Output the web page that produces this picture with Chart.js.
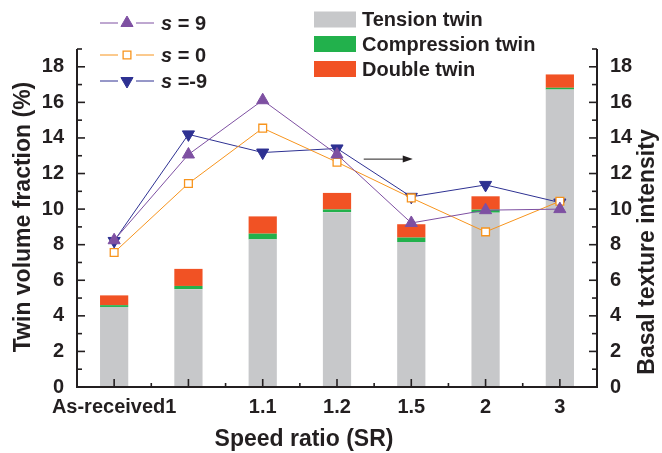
<!DOCTYPE html>
<html>
<head>
<meta charset="utf-8">
<script src="https://cdn.jsdelivr.net/npm/chart.js@4/dist/chart.umd.min.js"></script>
<style>
  html, body { margin: 0; padding: 0; background: #ffffff; }
  canvas { display: block; }
</style>
</head>
<body>
<canvas id="chart" width="662" height="453"></canvas>
<script>
// Speed ratio categories and the labels printed under them
const categories = ['As-received', '1', '1.1', '1.2', '1.5', '2', '3'];
const tickLabels = ['As-received1', '', '1.1', '1.2', '1.5', '2', '3'];

// Twin volume fractions (%), stacked per speed ratio
const tensionTwin     = [4.50, 5.50, 8.30, 9.83, 8.15, 9.80, 16.72];
const compressionTwin = [0.10, 0.18, 0.32, 0.15, 0.25, 0.17, 0.10];
const doubleTwin      = [0.55, 0.96, 0.97, 0.93, 0.75, 0.75, 0.75];

// Basal texture intensity at three sections (s = 9, 0, -9)
const textureS9  = [8.25, 13.07, 16.12, 13.07, 9.22, 9.94, 10.00];
const textureS0  = [7.56, 11.44, 14.55, 12.64, 10.63, 8.72, 10.44];
const textureSm9 = [8.21, 14.20, 13.18, 13.41, 10.69, 11.36, 10.37];

// Shared value range for both vertical axes
const axisMin = 0;
const axisMax = 19;
const yTickValues = [0, 2, 4, 6, 8, 10, 12, 14, 16, 18];

const FONT = "'Liberation Sans', Arial, Helvetica, sans-serif";
const INK = '#231f20';

// Draws the framing lines, inward tick marks, axis titles, both legends and the arrow
const framePlugin = {
  id: 'frame',
  afterDraw(chart) {
    const { ctx, chartArea: a, scales } = chart;
    const seg = (x1, y1, x2, y2) => { ctx.beginPath(); ctx.moveTo(x1, y1); ctx.lineTo(x2, y2); ctx.stroke(); };
    ctx.save();

    // axis lines
    ctx.strokeStyle = INK;
    ctx.lineWidth = 2;
    seg(a.left, a.top, a.left, a.bottom + 1);
    seg(a.right, a.top, a.right, a.bottom + 1);
    seg(a.left - 1, a.bottom, a.right + 1, a.bottom);

    // vertical-axis ticks: major on even values, minor on odd
    ctx.lineWidth = 1.6;
    for (let v = axisMin; v <= axisMax; v++) {
      const yp = scales.y.getPixelForValue(v);
      const len = v % 2 === 0 ? 8 : 5;
      seg(a.left, yp, a.left + len, yp);
      seg(a.right, yp, a.right - len, yp);
    }
    // horizontal-axis ticks: major at categories, minor between them
    for (let i = 0; i < categories.length; i++) {
      const xp = scales.x.getPixelForValue(i);
      seg(xp, a.bottom, xp, a.bottom - 8);
      if (i > 0) {
        const xb = scales.x.getPixelForValue(i - 0.5);
        seg(xb, a.bottom, xb, a.bottom - 4);
      }
    }

    // arrow pointing to the right-hand axis
    const ax1 = scales.x.getPixelForValue(3.36);
    const ax2 = scales.x.getPixelForValue(4.02);
    const ay = scales.y1.getPixelForValue(12.81);
    ctx.strokeStyle = '#231f20';
    ctx.lineWidth = 1;
    seg(ax1, ay, ax2 - 7, ay);
    ctx.fillStyle = '#231f20';
    ctx.beginPath();
    ctx.moveTo(ax2, ay);
    ctx.lineTo(ax2 - 10, ay - 3.5);
    ctx.lineTo(ax2 - 10, ay + 3.5);
    ctx.closePath();
    ctx.fill();

    // axis titles
    ctx.fillStyle = INK;
    ctx.font = 'bold 23px ' + FONT;
    ctx.textAlign = 'center';
    ctx.textBaseline = 'middle';
    ctx.fillText('Speed ratio (SR)', 304, 440);
    ctx.save();
    ctx.translate(24, 217);
    ctx.rotate(-Math.PI / 2);
    ctx.fillText('Twin volume fraction (%)', 0, 0);
    ctx.restore();
    ctx.save();
    ctx.translate(648, 252);
    ctx.rotate(-Math.PI / 2);
    ctx.fillText('Basal texture intensity', 0, 0);
    ctx.restore();

    // legend for the texture lines
    const ds = chart.data.datasets;
    const lineRows = [23, 55, 81];
    ds.filter(d => d.type === 'line').forEach((d, k) => {
      const y = lineRows[k];
      ctx.strokeStyle = d.borderColor;
      ctx.lineWidth = 1;
      seg(100, y, 118, y);
      seg(136, y, 154, y);
      ctx.fillStyle = d.pointBackgroundColor;
      ctx.strokeStyle = d.borderColor;
      ctx.lineWidth = d.pointBorderWidth;
      Chart.helpers.drawPoint(ctx, {
        pointStyle: d.pointStyle, rotation: d.pointRotation || 0,
        radius: d.pointRadius, borderWidth: d.pointBorderWidth
      }, 127, y);
      ctx.fillStyle = INK;
      ctx.textAlign = 'left';
      ctx.font = 'italic bold 20px ' + FONT;
      ctx.fillText(d.label.charAt(0), 161, y + 1);
      const w = ctx.measureText(d.label.charAt(0)).width;
      ctx.font = 'bold 20px ' + FONT;
      ctx.fillText(d.label.slice(1), 161 + w, y + 1);
    });

    // legend for the twin bars
    const barRows = [19.5, 44, 69];
    ds.filter(d => d.type === 'bar').forEach((d, k) => {
      const y = barRows[k];
      ctx.fillStyle = d.backgroundColor;
      ctx.fillRect(314, y - 8, 42, 16);
      ctx.fillStyle = INK;
      ctx.textAlign = 'left';
      ctx.font = 'bold 20px ' + FONT;
      ctx.fillText(d.label, 362, y + 1);
    });

    ctx.restore();
  }
};

const barCommon = {
  type: 'bar', yAxisID: 'y', stack: 'twin', order: 2,
  borderWidth: 0, categoryPercentage: 1, barPercentage: 0.38
};
const lineCommon = {
  type: 'line', yAxisID: 'y1', order: 0, borderWidth: 1, tension: 0,
  pointBorderWidth: 1, fill: false
};

new Chart(document.getElementById('chart'), {
  data: {
    labels: categories,
    datasets: [
      { ...barCommon, label: 'Tension twin', data: tensionTwin, backgroundColor: '#c7c8ca' },
      { ...barCommon, label: 'Compression twin', data: compressionTwin, backgroundColor: '#22b14c' },
      { ...barCommon, label: 'Double twin', data: doubleTwin, backgroundColor: '#f15224' },
      { ...lineCommon, label: 's = 9', data: textureS9, borderColor: '#7e50a2',
        pointStyle: 'triangle', pointRadius: 7, pointRotation: 0,
        pointBackgroundColor: '#7e50a2', pointBorderColor: '#7e50a2' },
      { ...lineCommon, label: 's = 0', data: textureS0, borderColor: '#f7941d',
        pointStyle: 'rect', pointRadius: 5.5, pointRotation: 0, pointBorderWidth: 1.3,
        pointBackgroundColor: '#ffffff', pointBorderColor: '#f7941d' },
      { ...lineCommon, label: 's =-9', data: textureSm9, borderColor: '#2e3192',
        pointStyle: 'triangle', pointRadius: 7, pointRotation: 180,
        pointBackgroundColor: '#2e3192', pointBorderColor: '#2e3192' }
    ]
  },
  options: {
    responsive: false,
    animation: false,
    devicePixelRatio: 1,
    layout: { padding: { top: 49, left: 0, right: 0, bottom: 0 } },
    plugins: { legend: { display: false }, tooltip: { enabled: false } },
    scales: {
      x: {
        stacked: true,
        grid: { display: false, drawTicks: false },
        border: { display: false },
        ticks: {
          color: INK, padding: 8, maxRotation: 0, autoSkip: false,
          font: { family: FONT, size: 20, weight: 'bold' },
          callback: (v, i) => tickLabels[i]
        },
        afterFit(s) { s.height = 66; }
      },
      y: {
        position: 'left', stacked: true, min: axisMin, max: axisMax,
        grid: { display: false, drawTicks: false },
        border: { display: false },
        afterBuildTicks(s) { s.ticks = yTickValues.map(v => ({ value: v })); },
        ticks: { color: INK, padding: 13, font: { family: FONT, size: 20, weight: 'bold' } },
        afterFit(s) { s.width = 77; }
      },
      y1: {
        position: 'right', min: axisMin, max: axisMax,
        grid: { display: false, drawTicks: false },
        border: { display: false },
        afterBuildTicks(s) { s.ticks = yTickValues.map(v => ({ value: v })); },
        ticks: { color: INK, padding: 13, font: { family: FONT, size: 20, weight: 'bold' } },
        afterFit(s) { s.width = 65; }
      }
    }
  },
  plugins: [framePlugin]
});
</script>
</body>
</html>
